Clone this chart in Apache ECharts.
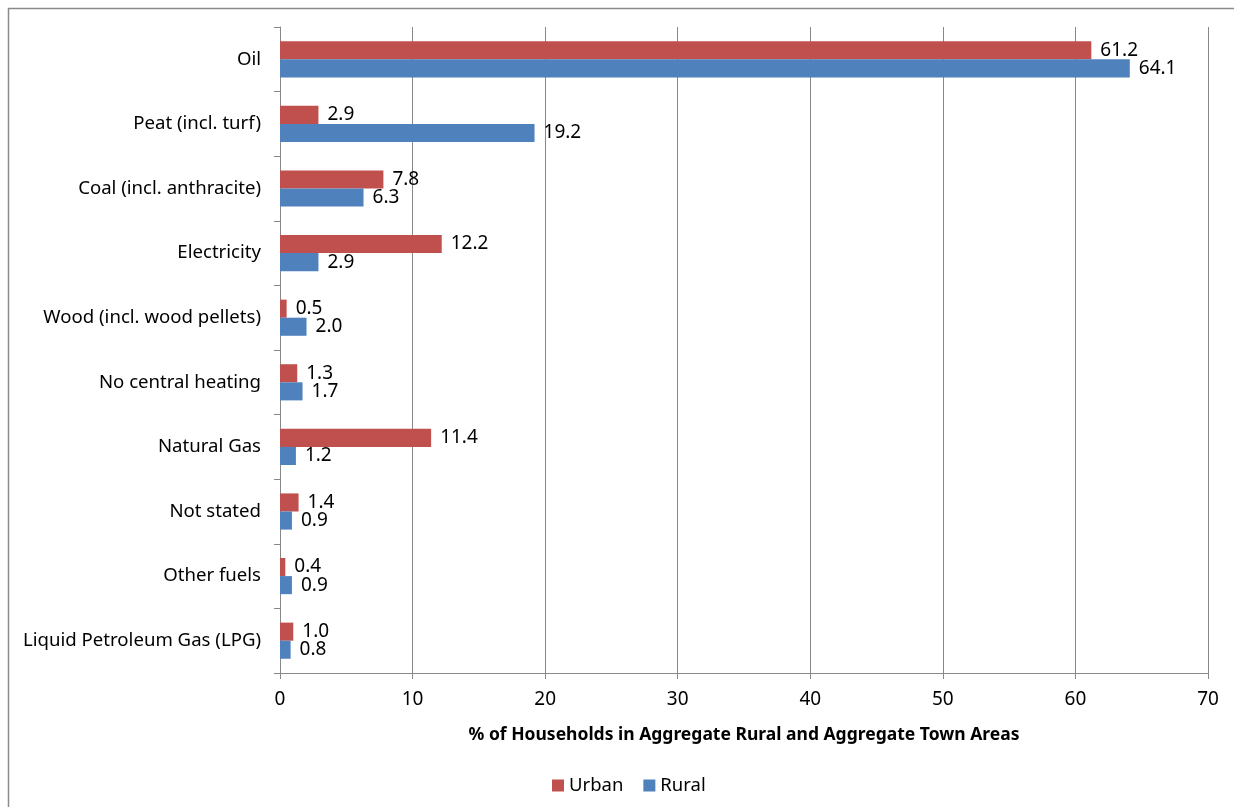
<!DOCTYPE html>
<html>
<head>
<meta charset="utf-8">
<script src="https://cdn.jsdelivr.net/npm/echarts@6/dist/echarts.min.js"></script>
<style>
html,body{margin:0;padding:0;background:#fff;}
#main{width:1234px;height:807px;}
</style>
</head>
<body>
<div id="main"></div>
<script>
const categories = ["Oil","Peat (incl. turf)","Coal (incl. anthracite)","Electricity","Wood (incl. wood pellets)","No central heating","Natural Gas","Not stated","Other fuels","Liquid Petroleum Gas (LPG)"];
const urban = [61.2,2.9,7.8,12.2,0.5,1.3,11.4,1.4,0.4,1.0];
const rural = [64.1,19.2,6.3,2.9,2.0,1.7,1.2,0.9,0.9,0.8];
const xTicks = [0,10,20,30,40,50,60,70];
const xName = "% of Households in Aggregate Rural and Aggregate Town Areas";

const FONT = "Noto Sans";
const chart = echarts.init(document.getElementById('main'), null, {renderer:'canvas'});
const labelCfg = {show:true, position:'right', distance:9, color:'#000', fontFamily:FONT, fontSize:19, formatter: p => p.value.toFixed(1)};
chart.setOption({
  animation:false,
  textStyle:{fontFamily:FONT},
  graphic:[{type:'rect', shape:{x:8.5,y:8.5,width:1240,height:810}, style:{fill:'none', stroke:'#8a8a8a', lineWidth:1.5}, z:-1}],
  grid:{left:280, right:26, top:27, bottom:134, containLabel:false},
  legend:{data:['Urban','Rural'], left:547, top:771, itemWidth:12, itemHeight:12, itemGap:20, icon:'rect',
    textStyle:{fontFamily:FONT, fontSize:18.5, color:'#000'}},
  xAxis:{type:'value', min:xTicks[0], max:xTicks[xTicks.length-1], interval:10,
    name:xName, nameLocation:'middle', nameGap:53,
    nameTextStyle:{fontFamily:FONT, fontSize:17.5, fontWeight:'bold', color:'#000'},
    axisLine:{show:true, lineStyle:{color:'#888', width:1}},
    axisTick:{show:true, length:6, lineStyle:{color:'#888'}},
    axisLabel:{margin:17, color:'#000', fontFamily:FONT, fontSize:19},
    splitLine:{show:true, lineStyle:{color:'#888', width:1}}},
  yAxis:{type:'category', data:categories, inverse:true,
    axisLine:{show:true, lineStyle:{color:'#888', width:1}},
    axisTick:{show:true, length:6, lineStyle:{color:'#888'}},
    axisLabel:{margin:19, color:'#000', fontFamily:FONT, fontSize:18.6}},
  series:[
    {name:'Urban', type:'bar', data:urban, barGap:'0%', barCategoryGap:'44%', itemStyle:{color:'#C0504D'}, label:labelCfg},
    {name:'Rural', type:'bar', data:rural, barGap:'0%', barCategoryGap:'44%', itemStyle:{color:'#4F81BD'}, label:labelCfg}
  ]
});
</script>
</body>
</html>
